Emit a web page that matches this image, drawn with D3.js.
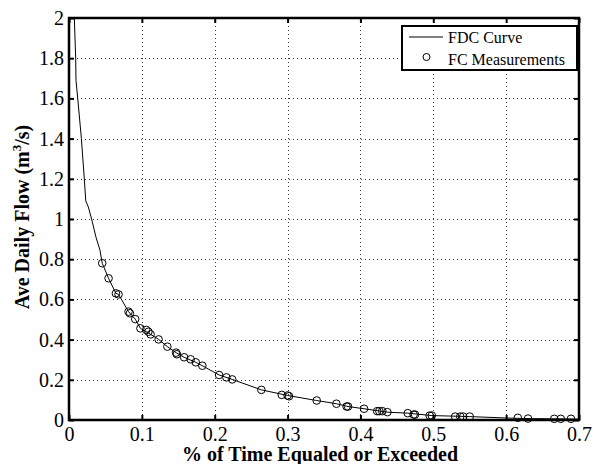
<!DOCTYPE html>
<html><head><meta charset="utf-8">
<script src="https://cdn.jsdelivr.net/npm/d3@7"></script>
<style>body{margin:0;background:#fff}svg{display:block}text{font-family:"Liberation Serif","Times New Roman",Times,serif}</style>
</head><body><svg id="c" width="593" height="464"></svg>
<script>
// FDC curve (x = fraction of time equaled or exceeded, y = flow m3/s)
const curveX = [0.0073,0.0092,0.0096,0.012,0.017,0.021,0.023,0.0265,0.031,0.037,0.0425,0.0456,0.0543,0.0644,0.068,0.0817,0.0909,0.098,0.112,0.123,0.135,0.147,0.158,0.174,0.183,0.206,0.224,0.264,0.300,0.340,0.367,0.383,0.405,0.437,0.465,0.498,0.55,0.60,0.63,0.69,0.70];
const curveY = [2.0,1.8,1.69,1.6,1.4,1.2,1.09,1.06,1.0,0.91,0.845,0.78,0.705,0.63,0.625,0.539,0.502,0.456,0.426,0.401,0.365,0.335,0.312,0.287,0.270,0.224,0.202,0.150,0.122,0.097,0.081,0.067,0.056,0.039,0.034,0.022,0.017,0.010,0.007,0.005,0.004];
// FC measurements
const measX = [0.0456,0.0543,0.0644,0.068,0.0817,0.0836,0.0909,0.098,0.106,0.109,0.112,0.123,0.135,0.147,0.148,0.158,0.167,0.174,0.183,0.206,0.216,0.224,0.264,0.292,0.300,0.302,0.340,0.367,0.381,0.383,0.405,0.423,0.426,0.430,0.437,0.465,0.473,0.475,0.495,0.498,0.530,0.537,0.541,0.550,0.616,0.630,0.666,0.675,0.689];
const measY = [0.780,0.705,0.630,0.625,0.539,0.531,0.502,0.456,0.448,0.439,0.426,0.401,0.365,0.335,0.327,0.312,0.302,0.287,0.270,0.224,0.212,0.202,0.150,0.125,0.122,0.118,0.097,0.081,0.067,0.067,0.056,0.044,0.044,0.044,0.039,0.034,0.027,0.027,0.022,0.022,0.017,0.017,0.017,0.017,0.011,0.007,0.006,0.006,0.006];
const xTicks = [0,0.1,0.2,0.3,0.4,0.5,0.6,0.7];
const yTicks = [0,0.2,0.4,0.6,0.8,1,1.2,1.4,1.6,1.8,2];
const xTickLabels = ["0","0.1","0.2","0.3","0.4","0.5","0.6","0.7"];
const yTickLabels = ["0","0.2","0.4","0.6","0.8","1","1.2","1.4","1.6","1.8","2"];
const legendLabels = ["FDC Curve","FC Measurements"];

const L=69,R=579,T=18,B=420;
const svg=d3.select("#c");
const x=d3.scaleLinear().domain([0,0.7]).range([L,R]);
const y=d3.scaleLinear().domain([0,2]).range([B,T]);

svg.append("defs").append("clipPath").attr("id","clip").append("rect").attr("x",L).attr("y",T).attr("width",R-L).attr("height",B-T);

// grid
const grid=svg.append("g").attr("stroke","#333").attr("stroke-width",1).attr("stroke-dasharray","1,3");
grid.selectAll(".gx").data(xTicks.slice(1,-1)).join("line").attr("x1",d=>Math.round(x(d))+0.5).attr("x2",d=>Math.round(x(d))+0.5).attr("y1",T).attr("y2",B);
grid.selectAll(".gy").data(yTicks.slice(1,-1)).join("line").attr("y1",d=>Math.round(y(d))+0.5).attr("y2",d=>Math.round(y(d))+0.5).attr("x1",L).attr("x2",R);

// axes with inward ticks
const fs=20;
const ax=svg.append("g").attr("transform",`translate(0,${B})`).call(d3.axisBottom(x).tickValues(xTicks).tickFormat((d,i)=>xTickLabels[i]).tickSizeInner(-5).tickSizeOuter(0).tickPadding(7));
const axT=svg.append("g").attr("transform",`translate(0,${T})`).call(d3.axisTop(x).tickValues(xTicks).tickFormat("").tickSizeInner(-5).tickSizeOuter(0));
const ay=svg.append("g").attr("transform",`translate(${L},0)`).call(d3.axisLeft(y).tickValues(yTicks).tickFormat((d,i)=>yTickLabels[i]).tickSizeInner(-5).tickSizeOuter(0).tickPadding(5));
const ayR=svg.append("g").attr("transform",`translate(${R},0)`).call(d3.axisRight(y).tickValues(yTicks).tickFormat("").tickSizeInner(-5).tickSizeOuter(0));
[ax,axT,ay,ayR].forEach(g=>{g.attr("font-family",null);g.select(".domain").remove();g.selectAll("line").attr("stroke","#000").attr("stroke-width",2);g.selectAll("text").attr("font-size",fs).attr("fill","#000");});

// curve
const line=d3.line().x((d,i)=>x(curveX[i])).y((d,i)=>y(curveY[i]));
svg.append("path").datum(curveX).attr("clip-path","url(#clip)").attr("d",line).attr("fill","none").attr("stroke","#000").attr("stroke-width",1);
// markers
svg.append("g").selectAll("circle").data(measX).join("circle").attr("cx",(d,i)=>x(d)).attr("cy",(d,i)=>y(measY[i])).attr("r",3.8).attr("fill","none").attr("stroke","#000").attr("stroke-width",1);

// frame
svg.append("rect").attr("x",L).attr("y",T).attr("width",R-L).attr("height",B-T).attr("fill","none").attr("stroke","#000").attr("stroke-width",2.5);

// axis titles
svg.append("text").attr("x",(L+R)/2-4).attr("y",461).attr("text-anchor","middle").attr("font-weight","bold").attr("font-size",20).text("% of Time Equaled or Exceeded");
const yt=svg.append("text").attr("transform","translate(29,217) rotate(-90)").attr("text-anchor","middle").attr("font-weight","bold").attr("font-size",20);
yt.append("tspan").text("Ave Daily Flow (m");
yt.append("tspan").attr("font-size",13).attr("dy",-8).text("3");
yt.append("tspan").attr("dy",8).text("/s)");

// legend
const lg=svg.append("g");
lg.append("rect").attr("x",402).attr("y",26).attr("width",175).attr("height",44).attr("fill","#fff").attr("stroke","#000").attr("stroke-width",2);
lg.append("line").attr("x1",409).attr("x2",443).attr("y1",37).attr("y2",37).attr("stroke","#000").attr("stroke-width",1);
lg.append("circle").attr("cx",426.5).attr("cy",57).attr("r",3.5).attr("fill","none").attr("stroke","#000");
lg.append("text").attr("x",448).attr("y",43).attr("font-size",16).text(legendLabels[0]);
lg.append("text").attr("x",448).attr("y",64.5).attr("font-size",16).text(legendLabels[1]);
</script></body></html>
